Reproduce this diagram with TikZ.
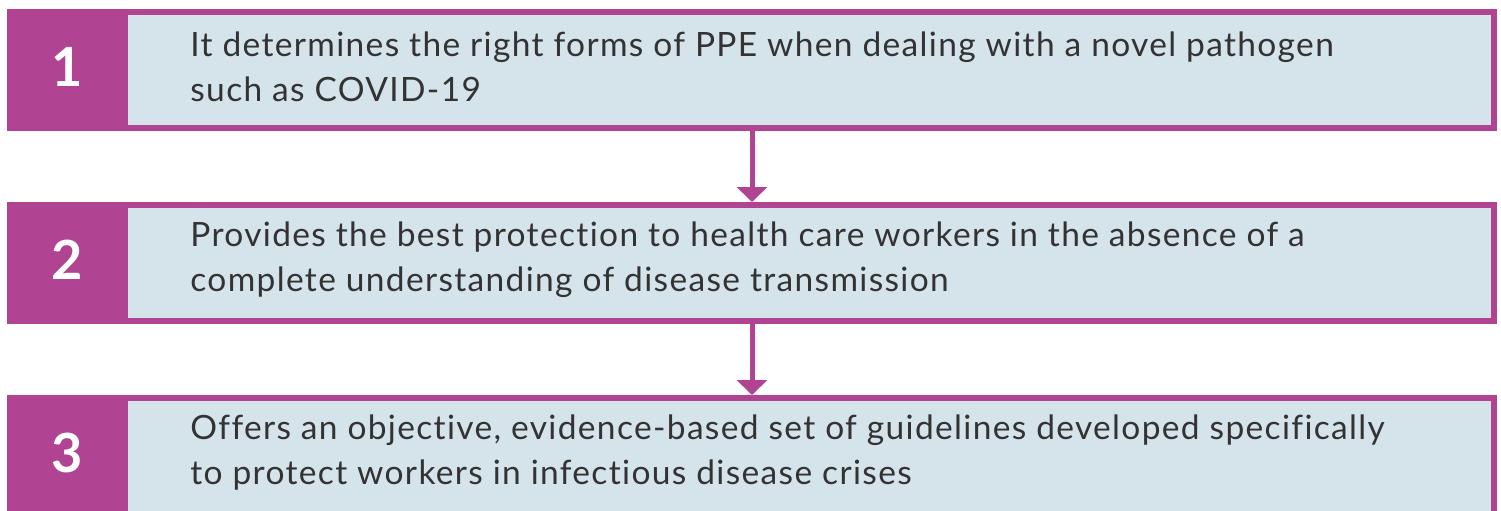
\documentclass[tikz,border=0pt]{standalone}
\usepackage{fontspec}
\setmainfont{Lato}
\newfontfamily\rowfont[LetterSpace=4,Ligatures=NoCommon]{Lato}
\usetikzlibrary{arrows.meta}
\definecolor{stepPurple}{HTML}{B04493}
\definecolor{stepBlue}{HTML}{D5E4EB}
\definecolor{stepText}{HTML}{333333}
\begin{document}
\begin{tikzpicture}[x=0.5pt,y=-0.5pt,
    rowbox/.style={rectangle, draw=stepPurple, line width=3pt, fill=stepBlue,
        minimum width=742pt, minimum height=58pt, inner sep=0pt},
    numbox/.style={rectangle, fill=stepPurple, minimum width=60.5pt, minimum height=61pt,
        inner sep=0pt, text=white, font=\fontsize{27}{27}\selectfont\bfseries},
    rowtext/.style={anchor=west, align=left, inner sep=0pt, text=stepText,
        font=\fontsize{16.75}{22.5}\rowfont},
    flow/.style={draw=stepPurple, line width=2.5pt, -{Triangle[width=15pt,length=7.5pt]}}]
    \useasboundingbox (0,0) rectangle (1501,510);
    \clip (0,0) rectangle (1501,510);
    \node[rowbox] (box1) at (752,70){};
    \node[rowbox] (box2) at (752,263){};
    \node[rowbox] (box3) at (752,456){};
    \node[numbox] (num1) at (67.5,70){\raisebox{3.5pt}{1}};
    \node[numbox] (num2) at (67.5,263){\raisebox{3.5pt}{2}};
    \node[numbox] (num3) at (67.5,456){\raisebox{3.5pt}{3}};
    \node[rowtext] (text1) at (190,67){It determines the right forms of PPE when dealing with a novel pathogen\\such as COVID-19};
    \node[rowtext] (text2) at (190,260){Provides the best protection to health care workers in the absence of a\\complete understanding of disease transmission};
    \node[rowtext] (text3) at (190,453){Offers an objective, evidence-based set of guidelines developed specifically\\to protect workers in infectious disease crises};
    \draw[flow] (box1) -- (box2);
    \draw[flow] (box2) -- (box3);
\end{tikzpicture}
\end{document}
